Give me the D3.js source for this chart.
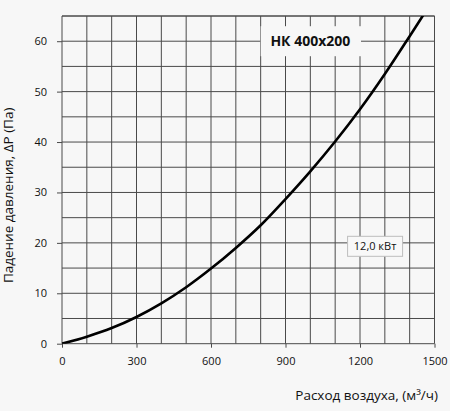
<!DOCTYPE html>
<html>
<head>
<meta charset="utf-8">
<script src="https://cdn.jsdelivr.net/npm/d3@7"></script>
<style>
  html, body { margin: 0; padding: 0; background: #f7f7f7; }
  svg { display: block; font-family: "Open Sans", "Noto Sans", sans-serif; }
</style>
</head>
<body>
<svg id="chart"></svg>
<script>
const flow = [0, 100, 200, 300, 400, 500, 600, 700, 800, 900, 1000, 1100, 1200, 1300, 1400, 1455];
const pressure = [0, 1.4, 3.1, 5.3, 8.0, 11.2, 14.9, 19.0, 23.5, 28.7, 34.2, 40.1, 46.5, 53.5, 61.0, 65.2];
const xTicks = [0, 300, 600, 900, 1200, 1500];
const yTicks = [0, 10, 20, 30, 40, 50, 60];
const xGrid = d3.range(0, 1501, 100);
const yGrid = d3.range(0, 66, 5);
const title = "НК 400х200";
const powerLabel = "12,0 кВт";

const width = 450;
const height = 411;
const margin = { top: 16, right: 15, bottom: 67, left: 62 };

const svg = d3.select("#chart").attr("width", width).attr("height", height);

const x = d3.scaleLinear().domain([0, 1500]).range([margin.left, width - margin.right - 0.5]);
const y = d3.scaleLinear().domain([0, 65]).range([height - margin.bottom - 0.3, margin.top]);

const gridColor = "#4a4a4a";

// clip so the curve stops at the top border
svg.append("clipPath").attr("id", "plot-clip")
  .append("rect")
  .attr("x", x(0)).attr("y", y(65))
  .attr("width", x(1500) - x(0)).attr("height", y(0) - y(65));

// grid
const grid = svg.append("g").attr("stroke", gridColor).attr("stroke-width", 1);
grid.selectAll("line.v").data(xGrid).join("line")
  .attr("x1", d => x(d)).attr("x2", d => x(d))
  .attr("y1", y(0)).attr("y2", y(65));
grid.selectAll("line.h").data(yGrid.concat([65])).join("line")
  .attr("x1", x(0)).attr("x2", x(1500))
  .attr("y1", d => y(d)).attr("y2", d => y(d));

// axes with small outward ticks
const xAxis = svg.append("g")
  .attr("transform", `translate(0,${y(0)})`)
  .call(d3.axisBottom(x).tickValues(xTicks).tickSize(4).tickPadding(10).tickFormat(d3.format("d")));
const yAxis = svg.append("g")
  .attr("transform", `translate(${x(0)},0)`)
  .call(d3.axisLeft(y).tickValues(yTicks).tickSize(5).tickPadding(10).tickFormat(d3.format("d")));
[xAxis, yAxis].forEach(a => {
  a.select(".domain").remove();
  a.selectAll("line").attr("stroke", gridColor);
  a.selectAll("text").attr("fill", "#111").attr("font-size", 11)
    .attr("font-family", "\"Open Sans\", sans-serif");
});

// curve
const line = d3.line()
  .x((d, i) => x(flow[i]))
  .y(d => y(d))
  .curve(d3.curveCatmullRom.alpha(0.5));
svg.append("path")
  .datum(pressure)
  .attr("clip-path", "url(#plot-clip)")
  .attr("fill", "none")
  .attr("stroke", "#000")
  .attr("stroke-width", 2.6)
  .attr("d", line);

// title box
svg.append("rect")
  .attr("x", x(800)).attr("y", y(60) - 15)
  .attr("width", x(1200) - x(800) + 1).attr("height", 30)
  .attr("fill", "#f7f7f7");
svg.append("text")
  .attr("x", (x(800) + x(1200)) / 2).attr("y", y(60) + 5)
  .attr("text-anchor", "middle")
  .attr("font-size", 14).attr("font-weight", "bold").attr("fill", "#111")
  .text(title);

// power box
svg.append("rect")
  .attr("x", x(1150)).attr("y", y(21.3))
  .attr("width", 55).attr("height", 20)
  .attr("fill", "#f8f8f8").attr("stroke", "#bdbdbd");
svg.append("text")
  .attr("x", x(1150) + 27.5).attr("y", y(21.3) + 14)
  .attr("text-anchor", "middle")
  .attr("font-size", 11).attr("fill", "#111")
  .text(powerLabel);

// axis labels
svg.append("text")
  .attr("transform", `translate(13,${(y(0) + 27) / 2 + 10}) rotate(-90)`)
  .attr("text-anchor", "middle")
  .attr("font-size", 13.5).attr("fill", "#111")
  .text("Падение давления, ΔP (Па)");
svg.append("text")
  .attr("x", 438).attr("y", 400)
  .attr("text-anchor", "end")
  .attr("font-size", 13.5).attr("fill", "#111")
  .text("Расход воздуха, (м³/ч)");
</script>
</body>
</html>
